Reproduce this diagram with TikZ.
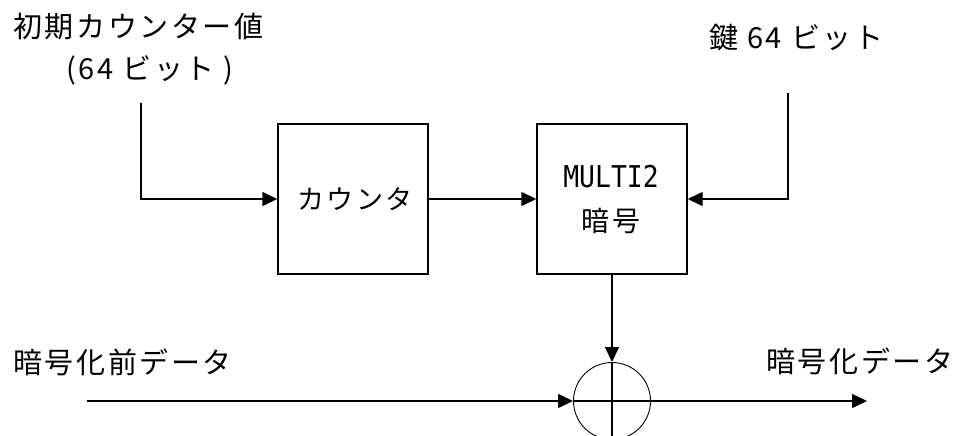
\documentclass[tikz,border=0pt]{standalone}
\usepackage{fontspec}
\usepackage{graphicx}
\newfontfamily\jp[LetterSpace=9]{Noto Sans CJK JP}
\newfontfamily\monof{DejaVu Sans Mono}
\usetikzlibrary{arrows.meta}
\tikzset{
  box/.style={draw, line width=1.4pt, minimum width=150pt, minimum height=150pt, inner sep=0pt},
  arr/.style={line width=1.4pt, -{Triangle[length=15pt,width=14pt]}},
  ln/.style={line width=1.4pt},
  lbl/.style={inner sep=0pt, font=\jp\fontsize{29}{31}\selectfont},
}
\begin{document}
\begin{tikzpicture}[x=1pt,y=-1pt]
\useasboundingbox[fill=white] (0,0) rectangle (963,436);
% boxes
\node[box, font=\jp\fontsize{27}{29}\selectfont] (cnt) at (353,199) {\hspace*{4pt}カウンタ};
\node[box] (enc) at (612,199) {};
\node[inner sep=0pt, font=\monof\fontsize{30}{32}\selectfont] (m2) at (611,177) {\scalebox{0.88}[1]{MULTI2}};
\node[inner sep=0pt, font=\jp\fontsize{28}{30}\selectfont] (ango) at (611,221) {暗号};
\node[circle, draw, line width=0.9pt, minimum size=77pt, inner sep=0pt] (xor) at (612,401) {};
% labels
\node[lbl, anchor=west] (t1) at (13,27) {初期カウンター値};
\node[lbl, anchor=west] (t2) at (66,70) {(64 ビット )};
\node[lbl, anchor=west] (t3) at (709,37) {鍵 64 ビット};
\node[lbl, anchor=west] (t4) at (13,362) {暗号化前データ};
\node[lbl, anchor=west] (t5) at (766,361) {暗号化データ};
% coordinates
\coordinate (in1) at (141,103);
\coordinate (key) at (788,93);
\coordinate (src) at (87,401);
\coordinate (dst) at (867,401);
\coordinate (bot) at (612,440);
% connectors
\draw[arr] (in1) |- (cnt.west);
\draw[arr] (cnt.east) -- (enc.west);
\draw[arr] (key) |- (enc.east);
\draw[arr] (enc.south) -- (xor.north);
\draw[arr] (src) -- (xor.west);
\draw[arr] (xor.east) -- (dst);
\draw[ln] (xor.north) -- (bot);
\draw[ln] (xor.west) -- (xor.east);
\end{tikzpicture}
\end{document}
